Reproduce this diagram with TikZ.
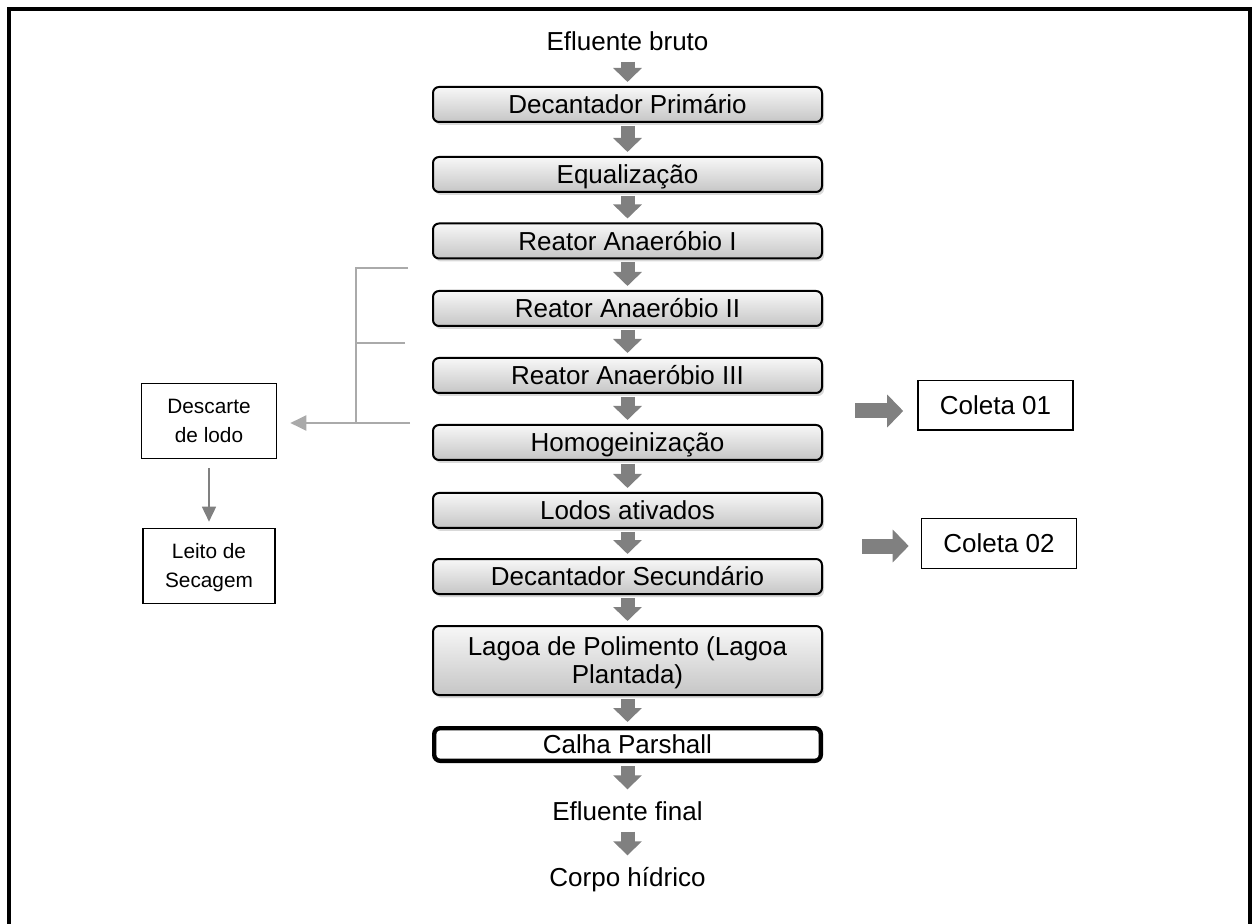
\documentclass[tikz,border=0pt]{standalone}
\usepackage{fontspec}
\setmainfont{Liberation Sans}
\usetikzlibrary{arrows.meta,shadows}
\definecolor{setacinza}{HTML}{808080}
\definecolor{ramalcinza}{HTML}{AAAAAA}
\begin{document}
\begin{tikzpicture}[x=0.5pt,y=-0.5pt,
  etapabase/.style={draw,line width=1pt,rounded corners=3pt,top color=gray!6,bottom color=gray!45,
    drop shadow={shadow xshift=1pt,shadow yshift=-1.5pt,opacity=0.3},
    minimum width=194.5pt,minimum height=17.5pt,inner sep=0pt,font=\fontsize{13pt}{14pt}\selectfont},
  etapa/.style={etapabase,text height=9.3pt,text depth=0pt},
  texto/.style={inner xsep=0pt,inner ysep=4pt,text height=9.3pt,text depth=0pt,font=\fontsize{13pt}{14pt}\selectfont},
  coleta/.style={draw,line width=0.8pt,minimum width=77.5pt,minimum height=24.8pt,inner sep=0pt,
    text height=9.3pt,text depth=0pt,font=\fontsize{13pt}{14pt}\selectfont},
  lodo/.style={draw,line width=0.8pt,minimum width=67.5pt,minimum height=37.5pt,inner sep=0pt,align=center,
    text height=21.95pt,text depth=0pt,font=\fontsize{10.4pt}{14.5pt}\selectfont},
  seta/.style={setacinza,line width=7pt,-{Triangle[length=7pt,width=14pt]},shorten <=1.5pt,shorten >=2pt},
  setalado/.style={setacinza,line width=7.5pt,-{Triangle[length=8pt,width=16pt]}},
  ramal/.style={ramalcinza,line width=1pt}]
\useasboundingbox (0,0) rectangle (1252,924);
\draw[line width=2pt] (9,940) -- (9,9) -- (1250,9) -- (1250,940);

\node[texto] (eb) at (627.5,41) {Efluente bruto};
\node[etapa] (dp) at (627.5,104.5) {Decantador Primário};
\node[etapa] (eq) at (627.5,174.5) {Equalização};
\node[etapa] (r1) at (627.5,241) {Reator Anaeróbio I};
\node[etapa] (r2) at (627.5,308.5) {Reator Anaeróbio II};
\node[etapa] (r3) at (627.5,375.5) {Reator Anaeróbio III};
\node[etapa] (ho) at (627.5,442.5) {Homogeinização};
\node[etapa] (la) at (627.5,510.5) {Lodos ativados};
\node[etapa] (ds) at (627.5,576.5) {Decantador Secundário};
\node[etapabase,minimum height=34.5pt,align=center,text height=23.3pt,text depth=0pt] (lp) at (627.5,660.5) {Lagoa de Polimento (Lagoa\\Plantada)};
\node[draw,line width=2.2pt,rounded corners=3pt,fill=white,minimum width=193.3pt,minimum height=16.3pt,inner sep=0pt,
  text height=9.3pt,text depth=0pt,font=\fontsize{13pt}{14pt}\selectfont] (cp) at (627.5,744.5) {Calha Parshall};
\node[texto] (ef) at (627.5,811) {Efluente final};
\node[texto] (ch) at (627.5,877) {Corpo hídrico};

\draw[seta] (eb) -- (dp);
\draw[seta] (dp) -- (eq);
\draw[seta] (eq) -- (r1);
\draw[seta] (r1) -- (r2);
\draw[seta] (r2) -- (r3);
\draw[seta] (r3) -- (ho);
\draw[seta] (ho) -- (la);
\draw[seta] (la) -- (ds);
\draw[seta] (ds) -- (lp);
\draw[seta] (lp) -- (cp);
\draw[seta] (cp) -- (ef);
\draw[seta] (ef) -- (ch);

\node[coleta] (c1) at (995.5,405.5) {Coleta 01};
\node[coleta] (c2) at (999,543.5) {Coleta 02};
\coordinate (s1) at (855,411);
\coordinate (s2) at (862,546);
\draw[setalado,shorten >=7pt] (s1) -- (s1 -| c1.west);
\draw[setalado,shorten >=6pt] (s2) -- (s2 -| c2.west);

\node[lodo] (dl) at (209,421) {Descarte\\de lodo};
\node[lodo,minimum width=66pt] (ls) at (209,566) {Leito de\\Secagem};
\coordinate (b1) at (408,268);
\coordinate (b2) at (405,343);
\coordinate (b3) at (410,423);
\coordinate (j1) at (356,268);
\coordinate (j2) at (356,343);
\coordinate (j3) at (356,423);
\draw[ramal] (b1) -- (j1) -- (j3);
\draw[ramal] (b2) -- (j2);
\draw[ramal,-{Triangle[length=8pt,width=7.5pt]},shorten >=6.5pt] (b3) -- (j3 -| dl.east);
\draw[setacinza,line width=0.8pt,-{Triangle[length=7.5pt,width=7pt]},shorten <=4.5pt,shorten >=3pt] (dl) -- (ls);
\end{tikzpicture}
\end{document}
